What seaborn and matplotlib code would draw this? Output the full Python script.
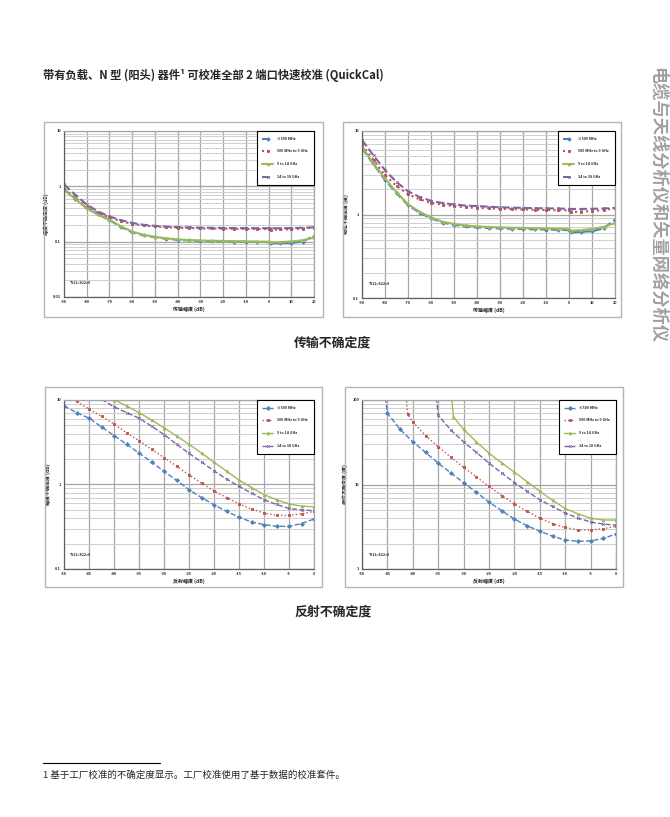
import numpy as np
import pandas as pd
import seaborn as sns
import matplotlib
matplotlib.use('Agg')
import matplotlib.pyplot as plt
from matplotlib.patches import Rectangle
from matplotlib.lines import Line2D
from matplotlib.ticker import NullFormatter, FixedLocator

# ---- data ----
series_names = ['≤500 MHz', '500 MHz to 9 GHz', '9 to 14 GHz', '14 to 18 GHz']

# transmission (x in dB)
tx = [-90, -85, -80, -75, -70, -65, -60, -55, -50, -45, -40, -35, -30, -25, -20, -15, -10, -5, 0, 1, 5, 10, 15, 20]

tmag_500m = [0.88, 0.6, 0.40, 0.31, 0.245, 0.185, 0.148, 0.13, 0.12, 0.113, 0.108, 0.105, 0.103, 0.102, 0.101, 0.1, 0.1, 0.099, 0.098, 0.094, 0.094, 0.095, 0.1, 0.128]
tmag_9g = [0.9, 0.62, 0.42, 0.33, 0.275, 0.235, 0.21, 0.196, 0.188, 0.182, 0.178, 0.176, 0.174, 0.173, 0.172, 0.171, 0.17, 0.17, 0.17, 0.164, 0.166, 0.168, 0.172, 0.18]
tmag_14g = [0.86, 0.59, 0.40, 0.31, 0.248, 0.19, 0.152, 0.133, 0.122, 0.115, 0.11, 0.107, 0.105, 0.104, 0.103, 0.102, 0.101, 0.1, 0.1, 0.097, 0.098, 0.101, 0.106, 0.118]
tmag_18g = [1.08, 0.7, 0.47, 0.35, 0.285, 0.245, 0.218, 0.202, 0.193, 0.187, 0.183, 0.181, 0.179, 0.178, 0.177, 0.176, 0.176, 0.175, 0.175, 0.175, 0.175, 0.176, 0.178, 0.182]

tph_500m = [6.2, 4.0, 2.6, 1.8, 1.3, 1.05, 0.9, 0.8, 0.75, 0.72, 0.7, 0.69, 0.68, 0.675, 0.67, 0.665, 0.66, 0.655, 0.65, 0.61, 0.62, 0.63, 0.68, 0.87]
tph_9g = [6.8, 4.5, 2.95, 2.2, 1.75, 1.52, 1.38, 1.31, 1.26, 1.22, 1.2, 1.18, 1.17, 1.16, 1.15, 1.14, 1.13, 1.125, 1.12, 1.07, 1.08, 1.1, 1.13, 1.19]
tph_14g = [6.4, 4.1, 2.7, 1.85, 1.33, 1.08, 0.92, 0.82, 0.77, 0.74, 0.72, 0.71, 0.7, 0.695, 0.69, 0.685, 0.68, 0.675, 0.67, 0.64, 0.65, 0.67, 0.71, 0.79]
tph_18g = [7.8, 5.1, 3.4, 2.45, 1.9, 1.62, 1.46, 1.37, 1.32, 1.28, 1.26, 1.24, 1.22, 1.21, 1.2, 1.19, 1.185, 1.18, 1.17, 1.165, 1.165, 1.17, 1.18, 1.2]

# reflection magnitude (x in dB)
rx = [-50, -47.5, -45, -42.5, -40, -37.5, -35, -32.5, -30, -27.5, -25, -22.5, -20, -17.5, -15, -12.5, -10, -7.5, -5, -2.5, 0]
rmag_500m = [8.5, 7.1, 6.1, 4.8, 3.8, 3.0, 2.35, 1.85, 1.43, 1.12, 0.87, 0.7, 0.575, 0.48, 0.41, 0.36, 0.335, 0.32, 0.32, 0.345, 0.39]
rmag_9g = [11.5, 9.6, 7.8, 6.4, 5.2, 4.1, 3.3, 2.6, 2.08, 1.65, 1.3, 1.04, 0.84, 0.7, 0.59, 0.51, 0.46, 0.43, 0.43, 0.45, 0.48]
rx_18g = [-45, -42.5, -40, -37.5, -35, -32.5, -30, -27.5, -25, -22.5, -20, -17.5, -15, -12.5, -10, -7.5, -5, -2.5, 0]
rmag_18g = [12.5, 10.2, 8.3, 7.1, 6.1, 4.9, 3.9, 3.0, 2.34, 1.85, 1.45, 1.16, 0.95, 0.79, 0.66, 0.58, 0.52, 0.5, 0.49]
rx_14g = [-42.5, -40, -37.5, -35, -32.5, -30, -27.5, -25, -22.5, -20, -17.5, -15, -12.5, -10, -7.5, -5, -2.5, 0]
rmag_14g = [12.5, 10.1, 8.5, 7.1, 5.8, 4.7, 3.75, 3.0, 2.35, 1.84, 1.44, 1.13, 0.92, 0.76, 0.66, 0.59, 0.555, 0.545]

# reflection phase (x in dB)
rpx_500m = [-45.6, -45, -42.5, -40, -37.5, -35, -32.5, -30, -27.5, -25, -22.5, -20, -17.5, -15, -12.5, -10, -7.5, -5, -2.5, 0]
rph_500m = [130, 70, 45, 32, 24, 17.9, 13.7, 10.5, 8.1, 6.2, 4.9, 3.9, 3.25, 2.8, 2.45, 2.2, 2.13, 2.15, 2.3, 2.6]
rpx_9g = [-41.4, -41, -40, -37.5, -35, -32.5, -30, -27.5, -25, -22.5, -20, -17.5, -15, -12.5, -10, -7.5, -5, -2.5, 0]
rph_9g = [130, 68, 55, 38, 28, 21, 16, 12.3, 9.5, 7.4, 5.9, 4.8, 4.0, 3.45, 3.1, 2.9, 2.9, 3.0, 3.2]
rpx_14g = [-32.5, -32, -30, -27.5, -25, -22.5, -20, -17.5, -15, -12.5, -10, -7.5, -5, -2.5, 0]
rph_14g = [130, 63, 45, 32, 23.5, 18, 14, 10.8, 8.3, 6.5, 5.2, 4.5, 4.0, 3.8, 3.8]
rpx_18g = [-35.5, -35, -32.5, -30, -27.5, -25, -22.5, -20, -17.5, -15, -12.5, -10, -7.5, -5, -2.5, 0]
rph_18g = [130, 66, 44, 32, 24, 17.9, 13.7, 10.5, 8.3, 6.6, 5.5, 4.6, 4.0, 3.6, 3.4, 3.3]

colors = ['#4F81BD', '#C0504D', '#9BBB59', '#8064A2']
markers = ['D', 's', '^', 'x']
dashes = ['--', ':', '-', '--']

sns.set_style('white')
plt.rcParams['font.family'] = ['Noto Sans CJK SC', 'DejaVu Sans']

W, H = 670, 817
fig = plt.figure(figsize=(W / 100, H / 100), dpi=100)


def ax_at(x0, y0, x1, y1):
    return fig.add_axes([x0 / W, 1 - y1 / H, (x1 - x0) / W, (y1 - y0) / H])


def box(x0, y0, x1, y1):
    fig.add_artist(Rectangle((x0 / W, 1 - y1 / H), (x1 - x0) / W, (y1 - y0) / H,
                             transform=fig.transFigure, fill=False,
                             edgecolor='#b5b5b5', lw=1.0))


def draw(ax, curves, xticks, ylim, ylabels, xlabel, ylabel, msize, lw):
    for i, (xs, ys) in enumerate(curves):
        df = pd.DataFrame({'x': xs, 'y': ys})
        sns.lineplot(data=df, x='x', y='y', ax=ax, color=colors[i], marker=markers[i],
                     linestyle=dashes[i], lw=lw, markersize=msize, markeredgewidth=0.6,
                     markeredgecolor=colors[i], label=series_names[i], sort=False)
    ax.set_yscale('log')
    ax.set_xlim(xticks[0], xticks[-1])
    ax.set_ylim(*ylim)
    ax.set_xticks(xticks)
    ax.set_xticklabels([str(t) for t in xticks])
    ax.yaxis.set_major_locator(FixedLocator(ylabels))
    ax.set_yticklabels([('%g' % v) for v in ylabels])
    ax.yaxis.set_minor_formatter(NullFormatter())
    ax.grid(which='major', axis='both', color='#a6a6a6', lw=0.9)
    ax.grid(which='minor', axis='y', color='#cfcfcf', lw=0.7)
    ax.tick_params(which='both', length=0, labelsize=2.8, pad=2)
    for lab in ax.get_xticklabels() + ax.get_yticklabels():
        lab.set_fontweight('bold')
    for s in ax.spines.values():
        s.set_color('#a6a6a6')
        s.set_linewidth(0.9)
    ax.spines['left'].set_color('#606060')
    ax.spines['bottom'].set_color('#606060')
    ax.set_xlabel(xlabel, fontsize=3.6, fontweight='bold', labelpad=2)
    ax.set_ylabel(ylabel, fontsize=3.6, fontweight='bold', labelpad=3)
    leg = ax.legend(loc='upper right', bbox_to_anchor=(1, 1), borderaxespad=0,
                    frameon=True, fancybox=False, labelspacing=2.4,
                    handlelength=3, borderpad=1.6, handletextpad=1.2,
                    prop={'weight': 'bold', 'size': 2.6})
    leg.get_frame().set_edgecolor('black')
    leg.get_frame().set_linewidth(0.8)
    leg.get_frame().set_alpha(1)
    ax.text(0.025, 0.07, '*S11=S22=0', transform=ax.transAxes, fontsize=2.6,
            fontweight='bold', va='bottom', ha='left')


# chart area borders
box(44, 122, 323, 317)
box(343, 122, 621, 317)
box(45, 387, 322, 587)
box(345, 387, 623, 587)

ax1 = ax_at(64, 131, 314, 297)
draw(ax1, [(tx, tmag_500m), (tx, tmag_9g), (tx, tmag_14g), (tx, tmag_18g)],
     list(range(-90, 21, 10)), (0.01, 10), [0.01, 0.1, 1, 10],
     '传输幅度 (dB)', '幅度不确定度 (dB)', 1.8, 1.5)

ax2 = ax_at(362, 131, 615, 298)
draw(ax2, [(tx, tph_500m), (tx, tph_9g), (tx, tph_14g), (tx, tph_18g)],
     list(range(-90, 21, 10)), (0.1, 10), [0.1, 1, 10],
     '传输幅度 (dB)', '相位不确定度 (度)', 1.8, 1.5)

ax3 = ax_at(64, 400, 314, 569)
draw(ax3, [(rx, rmag_500m), (rx, rmag_9g), (rx_14g, rmag_14g), (rx_18g, rmag_18g)],
     list(range(-50, 1, 5)), (0.1, 10), [0.1, 1, 10],
     '反射幅度 (dB)', '幅度不确定度 (dB)', 2.0, 1.0)

ax4 = ax_at(362, 400, 616, 569)
draw(ax4, [(rpx_500m, rph_500m), (rpx_9g, rph_9g), (rpx_14g, rph_14g), (rpx_18g, rph_18g)],
     list(range(-50, 1, 5)), (1, 100), [1, 10, 100],
     '反射幅度 (dB)', '相位不确定度 (度)', 2.0, 1.0)

# page texts
fig.text(43 / W, 1 - 75 / H, '带有负载、N 型 (阳头) 器件¹ 可校准全部 2 端口快速校准 (QuickCal)',
         fontsize=8.1, fontweight='bold', ha='left', va='center')
fig.text(333 / W, 1 - 343 / H, '传输不确定度', fontsize=9.3, fontweight='bold',
         ha='center', va='center')
fig.text(333 / W, 1 - 612 / H, '反射不确定度', fontsize=9.3, fontweight='bold',
         ha='center', va='center')
fig.text(657 / W, 1 - 205 / H, '电缆与天线分析仪和矢量网络分析仪', fontsize=12.4,
         fontweight='bold', color='#a0a0a0', rotation=-90, ha='center', va='center')
fig.add_artist(Line2D([43 / W, 160 / W], [1 - 763 / H, 1 - 763 / H],
                      transform=fig.transFigure, color='black', lw=0.8))
fig.text(43 / W, 1 - 775 / H, '1 基于工厂校准的不确定度显示。工厂校准使用了基于数据的校准套件。',
         fontsize=6.8, ha='left', va='center')

fig.savefig('out.png', dpi=100)
